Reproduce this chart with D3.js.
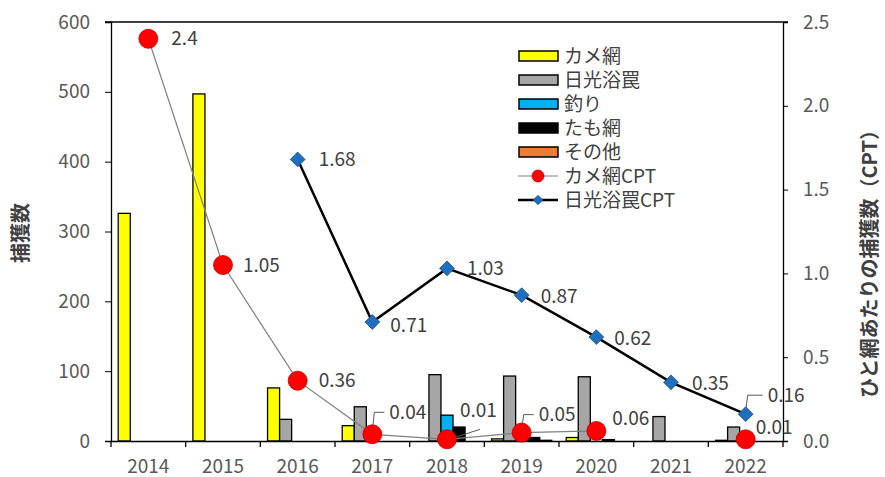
<!DOCTYPE html>
<html>
<head>
<meta charset="utf-8">
<script src="https://cdn.jsdelivr.net/npm/d3@7"></script>
<style>
  body { margin: 0; background: #fff; }
  text { font-family: "Noto Sans CJK JP", "Noto Sans", sans-serif; }
</style>
</head>
<body>
<div id="chart"></div>
<script>
// data
var years = ["2014", "2015", "2016", "2017", "2018", "2019", "2020", "2021", "2022"];
var kameAmi = [326, 497, 76, 22, 0, 3, 5, 0, 1];
var nikkoWana = [0, 0, 31, 49, 95, 93, 92, 35, 20];
var tsuri = [0, 0, 0, 0, 37, 0, 0, 0, 0];
var tamoAmi = [0, 0, 0, 0, 20, 5, 2, 0, 0];
var sonota = [0, 0, 0, 0, 0, 1, 0, 0, 0];
var kameCPT = [2.4, 1.05, 0.36, 0.04, 0.01, 0.05, 0.06, null, 0.01];
var nikkoCPT = [null, null, 1.68, 0.71, 1.03, 0.87, 0.62, 0.35, 0.16];
var leftTicks = [0, 100, 200, 300, 400, 500, 600];
var rightTicks = [0, 0.5, 1.0, 1.5, 2.0, 2.5];

var barSeries = [
  { name: "カメ網", values: kameAmi, color: "#FFFF00" },
  { name: "日光浴罠", values: nikkoWana, color: "#A6A6A6" },
  { name: "釣り", values: tsuri, color: "#00B0F0" },
  { name: "たも網", values: tamoAmi, color: "#000000" },
  { name: "その他", values: sonota, color: "#ED7D31" }
];

// label placement (pixel offsets from the point)
var kameLabelPos = [
  { dx: 23, dy: 0 }, { dx: 20, dy: 0 }, { dx: 21, dy: 0 },
  { dx: 17, dy: -22, leader: "elbow" }, { dx: 13, dy: -29, leader: "diag" },
  { dx: 17, dy: -18, leader: "elbow" }, { dx: 16, dy: -13 }, null, { dx: 10, dy: -12 }
];
var nikkoLabelPos = [
  null, null, { dx: 21, dy: 0 }, { dx: 18, dy: 3 }, { dx: 20, dy: 0 },
  { dx: 19, dy: 1 }, { dx: 18, dy: 1 }, { dx: 21, dy: 1 }, { dx: 22, dy: -19, leader: "elbow" }
];

var W = 885, H = 477;
var plotL = 111, plotR = 783, plotT = 22, plotB = 441;
var numFont = "19px";

var svg = d3.select("#chart").append("svg")
  .attr("width", W).attr("height", H);

var x = d3.scaleBand().domain(years).range([plotL, plotR]).paddingInner(0).paddingOuter(0);
var xSub = d3.scaleBand().domain(barSeries.map(function (s) { return s.name; }))
  .range([0, x.bandwidth()]).paddingInner(0).paddingOuter(0.6);
var yL = d3.scaleLinear().domain([0, 600]).range([plotB, plotT]);
var yR = d3.scaleLinear().domain([0, 2.5]).range([plotB, plotT]);

// top border of the plot area
svg.append("line")
  .attr("x1", plotL - 6).attr("x2", plotR + 5)
  .attr("y1", plotT).attr("y2", plotT)
  .attr("stroke", "#000").attr("stroke-width", 1.3);

// bars
barSeries.forEach(function (s) {
  svg.append("g").selectAll("rect")
    .data(s.values)
    .enter().append("rect")
    .attr("x", function (d, i) { return x(years[i]) + xSub(s.name); })
    .attr("y", function (d) { return yL(d); })
    .attr("width", xSub.bandwidth())
    .attr("height", function (d) { return plotB - yL(d); })
    .style("fill", s.color)
    .style("stroke", "#000")
    .style("stroke-width", 1.3);
});

// axes
var axisColor = "#000";
var tickColor = "#595959";

var gx = svg.append("g").attr("transform", "translate(0," + plotB + ")")
  .call(d3.axisBottom(x).tickSize(0).tickPadding(19));
gx.select(".domain").attr("stroke", axisColor).attr("stroke-width", 1.3);
gx.selectAll("text").style("font-size", numFont).style("fill", tickColor)
  .style("font-family", "'Noto Sans CJK JP', sans-serif");
// category boundary ticks
svg.append("g").selectAll("line")
  .data(years.concat(["end"]))
  .enter().append("line")
  .attr("x1", function (d, i) { return plotL + i * x.step(); })
  .attr("x2", function (d, i) { return plotL + i * x.step(); })
  .attr("y1", plotB).attr("y2", plotB + 6)
  .attr("stroke", axisColor).attr("stroke-width", 1.3);

var gl = svg.append("g").attr("transform", "translate(" + plotL + ",0)")
  .call(d3.axisLeft(yL).tickValues(leftTicks).tickSize(6).tickPadding(15));
gl.select(".domain").attr("stroke", axisColor).attr("stroke-width", 1.3);
gl.selectAll(".tick line").attr("stroke", axisColor);
gl.selectAll("text").style("font-size", numFont).style("fill", tickColor)
  .style("font-family", "'Noto Sans CJK JP', sans-serif");

var gr = svg.append("g").attr("transform", "translate(" + plotR + ",0)")
  .call(d3.axisRight(yR).tickValues(rightTicks).tickFormat(d3.format(".1f")).tickSize(5).tickPadding(15));
gr.select(".domain").attr("stroke", axisColor).attr("stroke-width", 1.3);
gr.selectAll(".tick line").attr("stroke", axisColor);
gr.selectAll("text").style("font-size", numFont).style("fill", tickColor)
  .style("font-family", "'Noto Sans CJK JP', sans-serif");

// axis titles
svg.append("text")
  .attr("transform", "translate(28,233) rotate(-90)")
  .attr("text-anchor", "middle")
  .style("font-size", "20px").style("font-weight", "bold").style("fill", "#404040")
  .text("捕獲数");
svg.append("text")
  .attr("transform", "translate(877,259) rotate(-90)")
  .attr("text-anchor", "middle")
  .style("font-size", "20px").style("font-weight", "bold").style("fill", "#404040")
  .text("ひと網あたりの捕獲数（CPT）");

var cx = function (i) { return x(years[i]) + x.bandwidth() / 2; };

// CPT lines
var line = function (scale) {
  return d3.line()
    .defined(function (d) { return d != null; })
    .x(function (d, i) { return cx(i); })
    .y(function (d) { return scale(d); });
};

svg.append("path").datum(kameCPT)
  .attr("d", line(yR))
  .style("fill", "none").style("stroke", "#7F7F7F").style("stroke-width", 1.2);

svg.append("path").datum(nikkoCPT)
  .attr("d", line(yR))
  .style("fill", "none").style("stroke", "#000").style("stroke-width", 2.5);

var diamond = d3.symbol().type(d3.symbolDiamond2).size(140);

function drawLabels(values, pos) {
  var g = svg.append("g");
  values.forEach(function (v, i) {
    if (v == null || !pos[i]) return;
    var px = cx(i), py = yR(v), p = pos[i];
    var tx = px + p.dx, ty = py + p.dy;
    if (p.leader === "elbow") {
      g.append("path")
        .attr("d", "M" + (px) + "," + (py - 3) + "L" + (px + 2) + "," + ty + "L" + (tx - 5) + "," + ty)
        .style("fill", "none").style("stroke", "#595959").style("stroke-width", 1);
    } else if (p.leader === "diag") {
      g.append("line")
        .attr("x1", px + 2).attr("y1", py).attr("x2", px + 33).attr("y2", py - 10)
        .style("stroke", "#595959").style("stroke-width", 1);
    }
    g.append("text")
      .attr("x", tx).attr("y", ty).attr("dy", "0.35em")
      .style("font-size", numFont).style("fill", "#404040")
      .text(v);
  });
}

drawLabels(kameCPT, kameLabelPos);
drawLabels(nikkoCPT, nikkoLabelPos);

svg.append("g").selectAll("path")
  .data(nikkoCPT.map(function (d, i) { return { v: d, i: i }; }).filter(function (d) { return d.v != null; }))
  .enter().append("path")
  .attr("d", diamond)
  .attr("transform", function (d) { return "translate(" + cx(d.i) + "," + yR(d.v) + ")"; })
  .style("fill", "#1F6FBF").style("stroke", "#1F4E79").style("stroke-width", 0.8);

svg.append("g").selectAll("circle")
  .data(kameCPT.map(function (d, i) { return { v: d, i: i }; }).filter(function (d) { return d.v != null; }))
  .enter().append("circle")
  .attr("cx", function (d) { return cx(d.i); })
  .attr("cy", function (d) { return yR(d.v); })
  .attr("r", 9.5)
  .style("fill", "#FF0000").style("stroke", "#C00000").style("stroke-width", 0.8);

// legend
var legend = svg.append("g").attr("transform", "translate(518,56)");
var rowH = 24;
barSeries.forEach(function (s, i) {
  var r = legend.append("g").attr("transform", "translate(0," + (i * rowH) + ")");
  r.append("rect").attr("x", 1).attr("y", -5).attr("width", 39).attr("height", 10)
    .style("fill", s.color).style("stroke", "#000").style("stroke-width", 1.5);
  r.append("text").attr("x", 46).attr("y", 0).attr("dy", "0.35em")
    .style("font-size", "19px").style("fill", "#404040").text(s.name);
});
var lr1 = legend.append("g").attr("transform", "translate(0," + (5 * rowH) + ")");
lr1.append("line").attr("x1", 0).attr("x2", 40).attr("y1", 0).attr("y2", 0)
  .style("stroke", "#7F7F7F").style("stroke-width", 1.2);
lr1.append("circle").attr("cx", 20).attr("cy", 0).attr("r", 6)
  .style("fill", "#FF0000").style("stroke", "#C00000").style("stroke-width", 0.8);
lr1.append("text").attr("x", 46).attr("y", 0).attr("dy", "0.35em")
  .style("font-size", "19px").style("fill", "#404040").text("カメ網CPT");
var lr2 = legend.append("g").attr("transform", "translate(0," + (6 * rowH) + ")");
lr2.append("line").attr("x1", 0).attr("x2", 40).attr("y1", 0).attr("y2", 0)
  .style("stroke", "#000").style("stroke-width", 2.5);
lr2.append("path").attr("d", d3.symbol().type(d3.symbolDiamond2).size(55))
  .attr("transform", "translate(20,0)")
  .style("fill", "#1F6FBF").style("stroke", "#1F4E79").style("stroke-width", 0.8);
lr2.append("text").attr("x", 46).attr("y", 0).attr("dy", "0.35em")
  .style("font-size", "19px").style("fill", "#404040").text("日光浴罠CPT");
</script>
</body>
</html>
